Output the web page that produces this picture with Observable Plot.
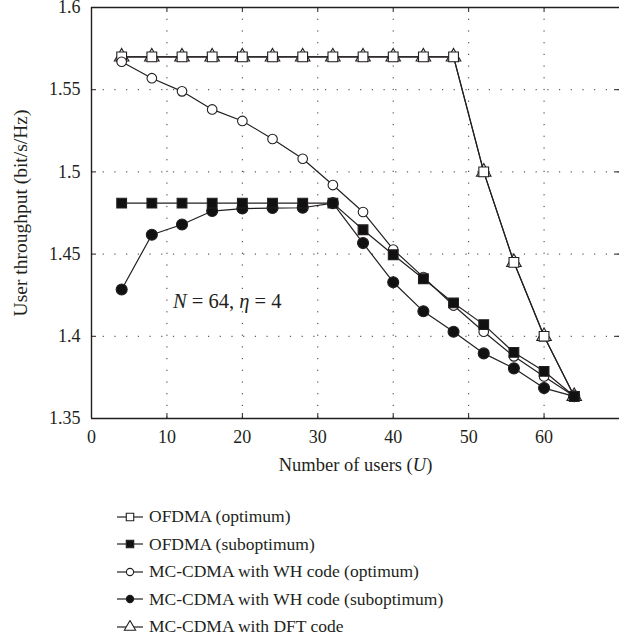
<!DOCTYPE html>
<html>
<head>
<meta charset="utf-8">
<script src="https://cdn.jsdelivr.net/npm/d3@7"></script>
<script src="https://cdn.jsdelivr.net/npm/@observablehq/plot@0.6"></script>
<style>
  html, body { margin: 0; padding: 0; background: #fff; }
  #wrap { position: relative; width: 619px; height: 640px; font-family: "Liberation Serif", serif; color: #231f20; }
  #legend { position: absolute; left: 0; top: 503px; }
  .row { height: 27.5px; display: flex; align-items: center; font-size: 17.5px; }
  .row svg { margin-left: 117px; margin-right: 6px; }
</style>
</head>
<body>
<div id="wrap">
  <div id="chart"></div>
  <div id="legend"></div>
</div>
<script>
// ---- data ----
const users = [4, 8, 12, 16, 20, 24, 28, 32, 36, 40, 44, 48, 52, 56, 60, 64];
const ofdmaOpt = [1.57, 1.57, 1.57, 1.57, 1.57, 1.57, 1.57, 1.57, 1.57, 1.57, 1.57, 1.57, 1.5, 1.445, 1.4, 1.3635];
const ofdmaSub = [1.481, 1.481, 1.481, 1.481, 1.481, 1.481, 1.481, 1.481, 1.4648, 1.4496, 1.435, 1.4203, 1.4071, 1.3902, 1.3787, 1.3635];
const whOpt = [1.567, 1.557, 1.549, 1.538, 1.531, 1.520, 1.508, 1.492, 1.4756, 1.4528, 1.436, 1.4187, 1.4028, 1.3878, 1.3756, 1.3635];
const whSub = [1.4285, 1.4618, 1.468, 1.4762, 1.4777, 1.478, 1.4782, 1.481, 1.4567, 1.4329, 1.4152, 1.4028, 1.3896, 1.3805, 1.3685, 1.3635];
const dftCode = [1.57, 1.57, 1.57, 1.57, 1.57, 1.57, 1.57, 1.57, 1.57, 1.57, 1.57, 1.57, 1.5, 1.445, 1.4, 1.3635];
const seriesNames = [
  "OFDMA (optimum)",
  "OFDMA (suboptimum)",
  "MC-CDMA with WH code (optimum)",
  "MC-CDMA with WH code (suboptimum)",
  "MC-CDMA with DFT code"
];
const xTicks = [0, 10, 20, 30, 40, 50, 60];
const yTicks = [1.35, 1.4, 1.45, 1.5, 1.55, 1.6];
const xLabel = "Number of users (U)";
const yLabel = "User throughput (bit/s/Hz)";
const annotation = [{x: 10.8, y: 1.4213, label: "N = 64, η = 4"}];

// ---- styles per series ----
const styles = [
  {values: ofdmaOpt, symbol: "square", fill: "white", r: 5.5},
  {values: ofdmaSub, symbol: "square", fill: "#111", r: 5.5},
  {values: whOpt, symbol: "circle", fill: "white", r: 4.8},
  {values: whSub, symbol: "circle", fill: "#111", r: 5.5},
  {values: dftCode, symbol: "triangle", fill: "none", r: 5.4}
];
const rows = [];
styles.forEach((s, i) => users.forEach((u, j) => rows.push({series: seriesNames[i], x: u, y: s.values[j], i})));

const ink = "#231f20";
const font = "Liberation Serif";
const W = 619, H = 480, mL = 91, mR = 0, mT = 7, mB = 62;
const innerH = H - mT - mB, innerW = W - mL - mR;

const marks = [
  Plot.gridX(xTicks.slice(1), {stroke: ink, strokeOpacity: 0.9, strokeDasharray: "1.2,10.5", strokeWidth: 1}),
  Plot.gridY(yTicks.slice(1, -1), {stroke: ink, strokeOpacity: 0.9, strokeDasharray: "1.2,10.5", strokeWidth: 1}),
  // inward ticks
  Plot.tickX(xTicks.slice(1), {x: d => d, stroke: ink, insetTop: innerH - 5}),
  Plot.tickX(xTicks.slice(1), {x: d => d, stroke: ink, insetBottom: innerH - 5}),
  Plot.tickY(yTicks.slice(1, -1), {y: d => d, stroke: ink, insetRight: innerW - 5}),
  Plot.tickY(yTicks.slice(1, -1), {y: d => d, stroke: ink, insetLeft: innerW - 5}),
  Plot.ruleX([0], {stroke: ink, strokeWidth: 1.4}),
  Plot.ruleY([1.35, 1.6], {stroke: ink, strokeWidth: 1.4}),
  Plot.axisX(xTicks, {tickSize: 0, tickPadding: 12, fontSize: 18, fill: ink, label: null}),
  Plot.axisY(yTicks, {tickSize: 0, tickPadding: 11, fontSize: 18, fill: ink, label: null, tickFormat: d => String(d)}),
  Plot.text([xLabel], {text: d => d, frameAnchor: "bottom", dy: 47, fontSize: 18.5, fill: ink, lineAnchor: "middle"}),
  Plot.text([yLabel], {text: d => d, frameAnchor: "left", dx: -71, rotate: -90, textAnchor: "middle", fontSize: 19.5, fill: ink, lineAnchor: "middle"}),
  Plot.text(annotation, {x: "x", y: "y", text: "label", textAnchor: "start", fontSize: 20.5, fill: ink, lineAnchor: "middle"})
];
// lines then dots, per series
[4, 0, 2, 3, 1].forEach(i => {
  const data = rows.filter(d => d.i === i);
  marks.push(Plot.line(data, {x: "x", y: "y", stroke: ink, strokeWidth: 1.2}));
});
[4, 0, 2, 3, 1].forEach(i => {
  const s = styles[i];
  const data = rows.filter(d => d.i === i);
  marks.push(Plot.dot(data, {x: "x", y: "y", symbol: () => s.symbol, r: s.r, fill: s.fill, stroke: ink, strokeWidth: 1.1}));
});

const chart = Plot.plot({
  width: W, height: H,
  marginLeft: mL, marginRight: mR, marginTop: mT, marginBottom: mB,
  style: {fontFamily: font, background: "white", overflow: "visible"},
  x: {domain: [0, 70]},
  y: {domain: [1.35, 1.6]},
  symbol: {type: "identity"},
  marks
});
document.getElementById("chart").appendChild(chart);

// italicize math symbols in text
function italicize(svg, full, parts) {
  svg.querySelectorAll("text").forEach(t => {
    if (t.textContent === full && t.children.length === 0) {
      t.textContent = "";
      parts.forEach(([str, it]) => {
        const ts = document.createElementNS("http://www.w3.org/2000/svg", "tspan");
        ts.textContent = str;
        if (it) ts.setAttribute("font-style", "italic");
        t.appendChild(ts);
      });
    }
  });
}
italicize(chart, xLabel, [["Number of users (", false], ["U", true], [")", false]]);
italicize(chart, annotation[0].label, [["N", true], [" = 64, ", false], ["η", true], [" = 4", false]]);

// legend
const legend = document.getElementById("legend");
styles.forEach((s, i) => {
  const row = document.createElement("div");
  row.className = "row";
  const ns = "http://www.w3.org/2000/svg";
  const svg = document.createElementNS(ns, "svg");
  svg.setAttribute("width", 26); svg.setAttribute("height", 14);
  const ln = document.createElementNS(ns, "line");
  ln.setAttribute("x1", 0); ln.setAttribute("x2", 26); ln.setAttribute("y1", 7); ln.setAttribute("y2", 7);
  ln.setAttribute("stroke", ink); ln.setAttribute("stroke-width", 1.2);
  svg.appendChild(ln);
  const sym = {square: d3.symbolSquare, circle: d3.symbolCircle, triangle: d3.symbolTriangle}[s.symbol];
  const p = document.createElementNS(ns, "path");
  const rr = s.symbol === "circle" ? 3.6 : 4.2;
  p.setAttribute("d", d3.symbol(sym, Math.PI * rr * rr)());
  p.setAttribute("transform", "translate(13,7)");
  p.setAttribute("fill", s.fill === "none" ? "white" : s.fill);
  p.setAttribute("stroke", ink); p.setAttribute("stroke-width", 1.1);
  svg.appendChild(p);
  row.appendChild(svg);
  const span = document.createElement("span");
  span.textContent = seriesNames[i];
  row.appendChild(span);
  legend.appendChild(row);
});
</script>
</body>
</html>
